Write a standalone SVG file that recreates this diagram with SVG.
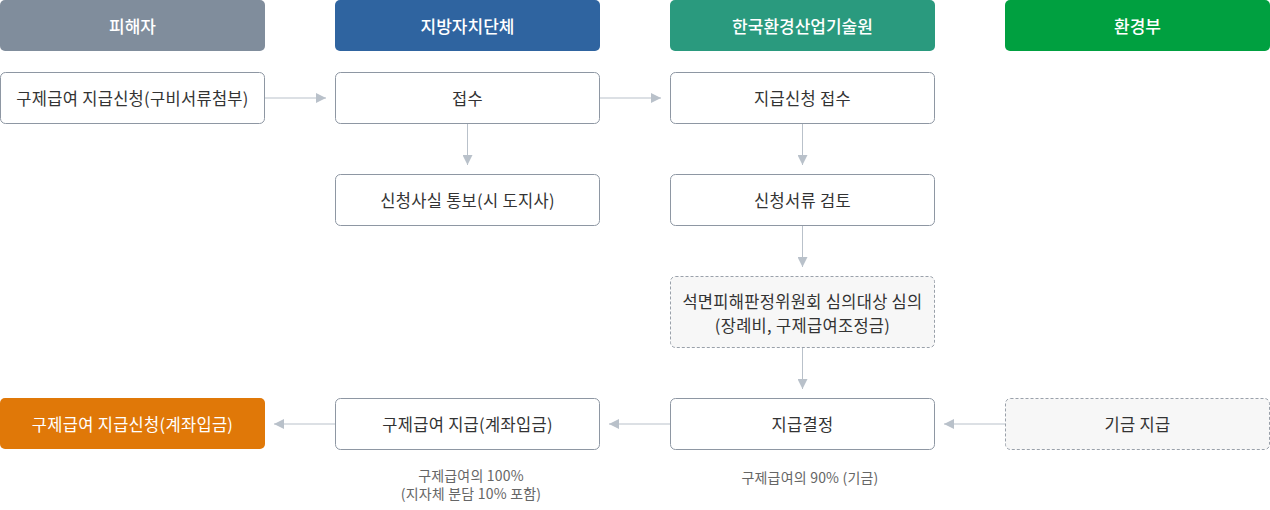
<svg xmlns="http://www.w3.org/2000/svg" width="1270" height="510" viewBox="0 0 1270 510">
<style>
text{font-family:"Noto Sans CJK KR","Noto Sans",sans-serif;text-anchor:middle;dominant-baseline:central}
.hd{fill:#fff;font-size:17px;font-weight:500}
.bx{fill:#fff;stroke:#8e97a3;stroke-width:1}
.ds{fill:#f7f7f7;stroke:#9aa1aa;stroke-width:1;stroke-dasharray:3 2}
.t{fill:#333;font-size:16.5px;letter-spacing:0.3px}
.cap{fill:#666;font-size:14px;letter-spacing:0.2px}
.ln{stroke:#b9c1ca;stroke-width:1;fill:none}
</style>
<defs>
<marker id="ah" viewBox="0 0 10 10" refX="10" refY="5" markerWidth="10" markerHeight="10" markerUnits="userSpaceOnUse" orient="auto">
<path d="M0,0 L10,5 L0,10 Z" fill="#b9c1ca"/>
</marker>
</defs>
<g id="h1"><rect x="0" y="0" width="265" height="51" rx="5" fill="#808d9c"/><text class="hd" x="132.5" y="25">피해자</text></g>
<g id="h2"><rect x="335" y="0" width="265" height="51" rx="5" fill="#2f64a0"/><text class="hd" x="467.5" y="25">지방자치단체</text></g>
<g id="h3"><rect x="670" y="0" width="265" height="51" rx="5" fill="#2a9a7e"/><text class="hd" x="802.5" y="25">한국환경산업기술원</text></g>
<g id="h4"><rect x="1005" y="0" width="265" height="51" rx="5" fill="#00a040"/><text class="hd" x="1137.5" y="25">환경부</text></g>

<g id="n1"><rect class="bx" x="0.5" y="72.5" width="264" height="51" rx="5"/><text class="t" x="132.5" y="98">구제급여 지급신청(구비서류첨부)</text></g>
<g id="n2"><rect class="bx" x="335.5" y="72.5" width="264" height="51" rx="5"/><text class="t" x="467.5" y="98">접수</text></g>
<g id="n3"><rect class="bx" x="670.5" y="72.5" width="264" height="51" rx="5"/><text class="t" x="802.5" y="98">지급신청 접수</text></g>
<g id="n4"><rect class="bx" x="335.5" y="174.5" width="264" height="51" rx="5"/><text class="t" x="467.5" y="200">신청사실 통보(시 도지사)</text></g>
<g id="n5"><rect class="bx" x="670.5" y="174.5" width="264" height="51" rx="5"/><text class="t" x="802.5" y="200">신청서류 검토</text></g>
<g id="n6"><rect class="ds" x="670.5" y="276.5" width="264" height="71" rx="5"/><text class="t" x="802.5" y="301">석면피해판정위원회 심의대상 심의</text><text class="t" x="802.5" y="325">(장례비, 구제급여조정금)</text></g>
<g id="n7"><rect x="0" y="398" width="265" height="51" rx="5" fill="#e07808"/><text class="t" style="fill:#fff" x="132.5" y="423.5">구제급여 지급신청(계좌입금)</text></g>
<g id="n8"><rect class="bx" x="335.5" y="398.5" width="264" height="51" rx="5"/><text class="t" x="467.5" y="423.5">구제급여 지급(계좌입금)</text></g>
<g id="n9"><rect class="bx" x="670.5" y="398.5" width="264" height="51" rx="5"/><text class="t" x="802.5" y="423.5">지급결정</text></g>
<g id="n10"><rect class="ds" x="1005.5" y="398.5" width="264" height="51" rx="5"/><text class="t" x="1137.5" y="423.5">기금 지급</text></g>

<g id="captions">
<text class="cap" x="471" y="475">구제급여의 100%</text>
<text class="cap" x="471" y="493">(지자체 분담 10% 포함)</text>
<text class="cap" x="810" y="477">구제급여의 90% (기금)</text>
</g>

<g id="connectors">
<path class="ln" d="M265,98 H326" marker-end="url(#ah)"/>
<path class="ln" d="M600,98 H661" marker-end="url(#ah)"/>
<path class="ln" d="M467.5,124 V165" marker-end="url(#ah)"/>
<path class="ln" d="M802.5,124 V165" marker-end="url(#ah)"/>
<path class="ln" d="M802.5,226 V267" marker-end="url(#ah)"/>
<path class="ln" d="M802.5,348 V389" marker-end="url(#ah)"/>
<path class="ln" d="M1005,424 H944" marker-end="url(#ah)"/>
<path class="ln" d="M670,424 H609" marker-end="url(#ah)"/>
<path class="ln" d="M335,424 H274" marker-end="url(#ah)"/>
</g>
</svg>
